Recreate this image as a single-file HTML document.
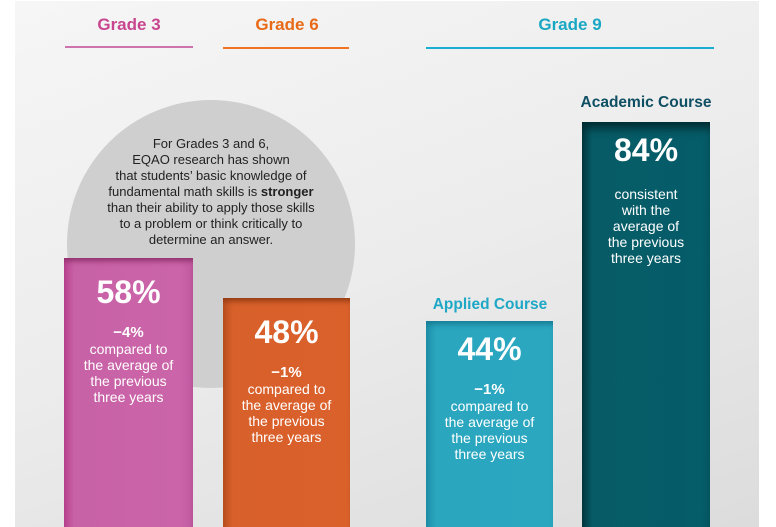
<!DOCTYPE html>
<html><head><style>
html,body{margin:0;padding:0;background:#fff;}
body{width:776px;height:527px;position:relative;overflow:hidden;font-family:"Liberation Sans",Arial,sans-serif;}
#bg{position:absolute;left:15px;top:1px;width:744px;height:526px;background:linear-gradient(160deg,#f6f6f6 0%,#ececec 50%,#dcdcdc 100%);}
.h{position:absolute;font-weight:bold;font-size:17px;text-align:center;}
.ln{position:absolute;height:2px;}
#circ{position:absolute;left:67px;top:100px;width:288px;height:288px;border-radius:50%;background:#cfcfcf;}
#ctext{position:absolute;left:71px;top:136px;width:280px;text-align:center;font-size:13px;line-height:16px;color:#222;}
.bar{position:absolute;bottom:0;color:#fff;text-align:center;}
.big{font-size:32px;font-weight:bold;line-height:36px;}
.chg{font-size:15px;font-weight:bold;line-height:17px;}
.sm{font-size:14px;line-height:16px;}
.sub{position:absolute;font-weight:bold;font-size:15.5px;text-align:center;}
</style></head><body>
<div id="bg"></div>
<div class="h" style="left:65px;width:128px;top:15px;color:#c8458f">Grade 3</div>
<div class="ln" style="left:65px;width:128px;top:46px;background:#cf73ac"></div>
<div class="h" style="left:223px;width:128px;top:15px;color:#e86a17">Grade 6</div>
<div class="ln" style="left:223px;width:126px;top:47px;background:#ee7424"></div>
<div class="h" style="left:425px;width:290px;top:15px;color:#19a7c3">Grade 9</div>
<div class="ln" style="left:426px;width:288px;top:47px;background:#1aafd0"></div>
<div id="circ"></div>
<div id="ctext">For Grades 3 and 6,<br>EQAO research has shown<br>that students’ basic knowledge of<br>fundamental math skills is <b>stronger</b><br>than their ability to apply those skills<br>to a problem or think critically to<br>determine an answer.</div>

<div class="bar" style="left:64px;width:129px;top:258px;background:linear-gradient(90deg,#b8428e 0%,#c862a6 8%,#cb64a8 90%,#c05a9f 100%);box-shadow:inset 0 6px 6px -3px #8e2f6c">
<div class="big" style="margin-top:16px">58%</div>
<div class="chg" style="margin-top:14px">−4%</div>
<div class="sm">compared to<br>the average of<br>the previous<br>three years</div></div>

<div class="bar" style="left:223px;width:127px;top:298px;background:linear-gradient(90deg,#b9501f 0%,#d8602b 8%,#db612b 100%);box-shadow:inset 0 6px 6px -3px #8f3a12">
<div class="big" style="margin-top:16px">48%</div>
<div class="chg" style="margin-top:14px">−1%</div>
<div class="sm">compared to<br>the average of<br>the previous<br>three years</div></div>

<div class="sub" style="left:420px;width:140px;top:296px;color:#1ea8c6">Applied Course</div>
<div class="bar" style="left:426px;width:127px;top:321px;background:linear-gradient(90deg,#1f8ea8 0%,#2aa6bf 8%,#2ba7c0 100%);box-shadow:inset 0 6px 6px -3px #167a91">
<div class="big" style="margin-top:10px">44%</div>
<div class="chg" style="margin-top:14px">−1%</div>
<div class="sm">compared to<br>the average of<br>the previous<br>three years</div></div>

<div class="sub" style="left:566px;width:160px;top:94px;color:#0f4f63">Academic Course</div>
<div class="bar" style="left:582px;width:128px;top:122px;background:linear-gradient(90deg,#03383f 0%,#065b66 8%,#055d69 100%);box-shadow:inset 0 10px 10px -4px #012a30">
<div class="big" style="margin-top:10px">84%</div>
<div class="sm" style="margin-top:18px">consistent<br>with the<br>average of<br>the previous<br>three years</div></div>
</body></html>
